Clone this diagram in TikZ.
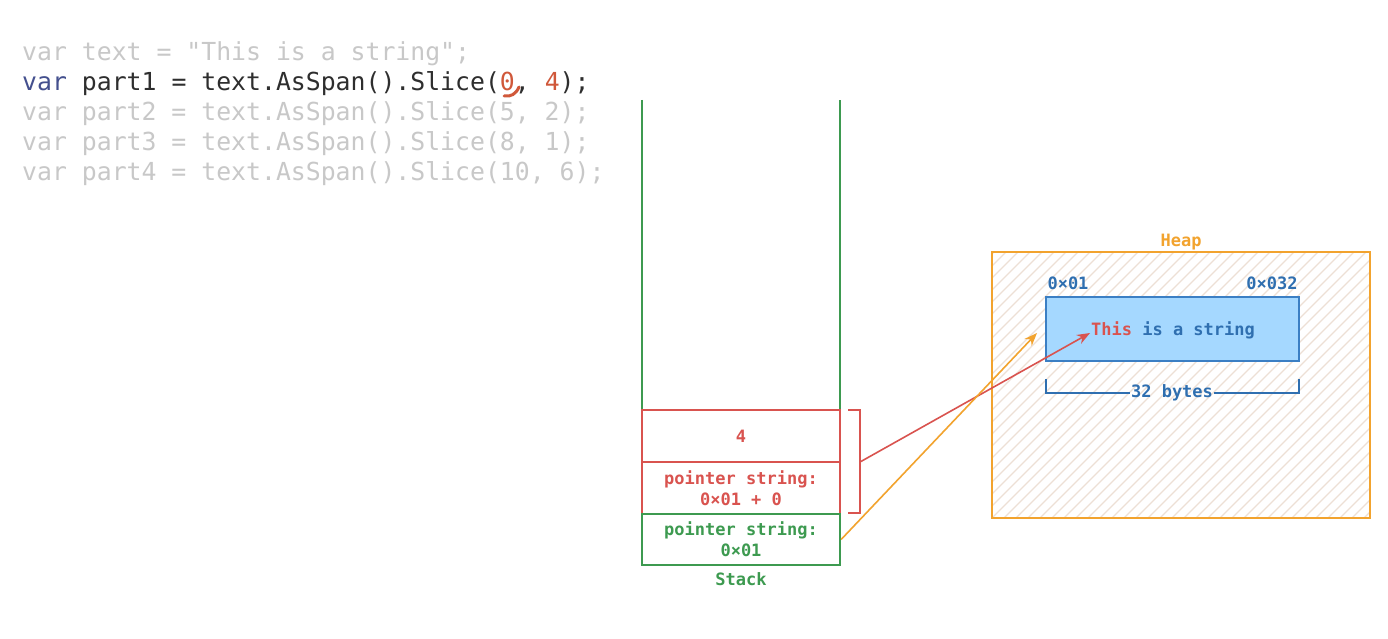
\documentclass[tikz,border=0pt]{standalone}
\usepackage{fontspec}
\newfontfamily\codefont{DejaVu Sans Mono}
\usetikzlibrary{arrows.meta}
\definecolor{cgray}{HTML}{C8C8C8}
\definecolor{cdark}{HTML}{2E2E2E}
\definecolor{cvar}{HTML}{44508E}
\definecolor{cnum}{HTML}{D0583A}
\definecolor{sgreen}{HTML}{3D9A50}
\definecolor{sred}{HTML}{D9534F}
\definecolor{horange}{HTML}{F2A32E}
\definecolor{hatch}{HTML}{EDE0D5}
\definecolor{bblue}{HTML}{3B7FC4}
\definecolor{bfill}{HTML}{A5D8FF}
\definecolor{tblue}{HTML}{2F6FB0}
\tikzset{
  codeline/.style={inner sep=0pt, anchor=base west, font=\codefont\fontsize{24.8}{28}\selectfont},
  lbl/.style={inner sep=0pt, font=\codefont\bfseries\fontsize{17}{21}\selectfont, align=center},
  cell/.style={draw, line width=2.2pt, minimum width=198pt, inner sep=0pt, font=\codefont\bfseries\fontsize{17}{21}\selectfont, align=center},
  arr/.style={line width=1.6pt, -{Stealth[length=13pt,width=10pt]}}
}
\begin{document}
\begin{tikzpicture}[x=1pt,y=-1pt]
\useasboundingbox[fill=white] (0,0) rectangle (1388,639);
% code
\node[codeline, text=cgray] (l1) at (22,61) {var text = "This is a string";};
\node[codeline, text=cdark] (l2) at (22,91) {\textcolor{cvar}{var} part1 = text.AsSpan().Slice(\textcolor{cnum}{0}, \textcolor{cnum}{4});};
\node[codeline, text=cgray] (l3) at (22,121) {var part2 = text.AsSpan().Slice(5, 2);};
\node[codeline, text=cgray] (l4) at (22,151) {var part3 = text.AsSpan().Slice(8, 1);};
\node[codeline, text=cgray] (l5) at (22,181) {var part4 = text.AsSpan().Slice(10, 6);};
\draw[cnum, line width=3pt, line cap=round] (504,96) .. controls (511,97) and (516,94) .. (519,87);
% stack
\draw[sgreen, line width=2.2pt] (642,100) -- (642,565) -- (840,565) -- (840,100);
\node[cell, draw=sred, text=sred, minimum height=52pt] (c4) at (741,436) {4};
\node[cell, draw=sred, text=sred, minimum height=52pt] (cp2) at (741,488) {pointer string:\\0×01 + 0};
\node[cell, draw=sgreen, text=sgreen, minimum height=51pt] (cp1) at (741,539.5) {pointer string:\\0×01};
\node[lbl, text=sgreen] (stk) at (741,579) {Stack};
% bracket
\draw[sred, line width=1.8pt] (848,410) -- (860,410) -- (860,513) -- (848,513);
\coordinate (bm) at (860,462);
% heap
\begin{scope}
\clip (992,252) rectangle (1370,518);
\foreach \i in {-25,...,33} \draw[hatch, line width=1.2pt] (992+\i*12,518) -- ++(266,-266);
\end{scope}
\draw[horange, line width=2.2pt] (992,252) rectangle (1370,518);
\node[lbl, text=horange] (heap) at (1181,242) {Heap};
\node[draw=bblue, fill=bfill, line width=2.2pt, minimum width=253pt, minimum height=64pt, inner sep=0pt] (str) at (1172.5,329) {};
\node[lbl, text=tblue] (strt) at (1173,330) {\textcolor{sred}{This} is a string};
\node[lbl, text=tblue] (a1) at (1068,283) {0×01};
\node[lbl, text=tblue] (a2) at (1272,283) {0×032};
\node[lbl, text=tblue, inner xsep=1pt] (bytes) at (1172,393) {32 bytes};
\draw[tblue, line width=1.8pt] (1046,379) |- (bytes.west);
\draw[tblue, line width=1.8pt] (1299,379) |- (bytes.east);
\coordinate (tr) at (1090,333);
\coordinate (to) at (1037,333);
% arrows
\draw[arr, sred] (bm) -- (tr);
\draw[arr, horange] (cp1.east) -- (to);
\end{tikzpicture}
\end{document}
